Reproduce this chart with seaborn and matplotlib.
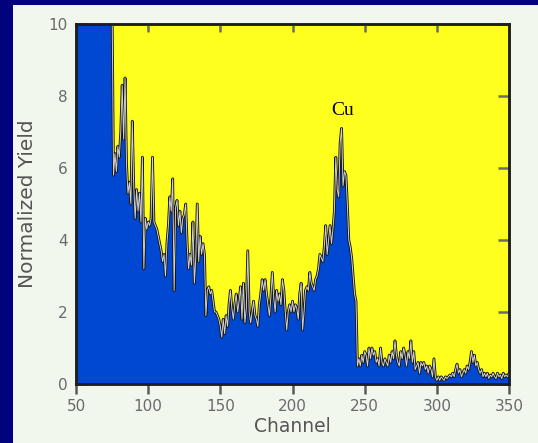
import numpy as np
import pandas as pd
import matplotlib
matplotlib.use("Agg")
import matplotlib.pyplot as plt
import seaborn as sns
from matplotlib.patches import Rectangle

# channel grid 50..350
channels = np.arange(50, 351)

# normalized yield per channel (values > 10 are off scale)
yield_vals = [
    10.5, 10.5, 10.5, 10.5, 10.5, 10.5, 10.5, 10.5, 10.5, 10.5,   # 50
    10.5, 10.5, 10.5, 10.5, 10.5, 10.5, 10.5, 10.5, 10.5, 10.5,   # 60
    10.5, 10.5, 10.5, 10.5, 10.5, 10.5, 5.8, 6.4, 5.9, 6.6,       # 70
    6.3, 7.0, 8.3, 6.8, 8.5, 6.1, 5.3, 5.6, 5.0, 7.3,             # 80
    5.5, 4.6, 5.4, 4.8, 5.3, 4.5, 6.3, 3.2, 4.6, 4.3,             # 90
    4.5, 4.4, 4.6, 6.3, 4.5, 4.4, 4.3, 4.1, 3.9, 3.7,             # 100
    3.4, 3.6, 3.0, 3.9, 4.4, 5.2, 4.8, 5.7, 2.6, 4.9,             # 110
    5.1, 4.4, 4.8, 4.2, 4.6, 4.7, 5.0, 3.9, 3.2, 3.6,             # 120
    3.3, 4.5, 2.8, 3.5, 5.0, 3.4, 4.1, 3.6, 3.9, 3.6,             # 130
    1.9, 2.6, 2.7, 2.5, 2.6, 2.3, 2.0, 2.0, 1.9, 1.8,             # 140
    1.6, 1.3, 1.8, 1.4, 1.9, 1.6, 2.2, 2.6, 2.1, 1.8,             # 150
    2.2, 2.5, 2.0, 2.3, 2.7, 1.8, 2.8, 1.7, 2.1, 3.7,             # 160
    2.0, 1.7, 2.0, 2.3, 1.9, 1.8, 1.6, 2.2, 2.5, 2.9,             # 170
    2.6, 2.9, 2.5, 2.2, 1.9, 2.4, 3.1, 2.4, 2.0, 2.6,             # 180
    2.3, 2.5, 2.2, 2.9, 2.6, 2.0, 1.5, 2.0, 2.2, 2.0,             # 190
    2.3, 2.0, 2.2, 2.1, 1.8, 2.5, 2.8, 1.5, 2.0, 2.6,             # 200
    2.7, 2.6, 3.1, 2.8, 2.7, 2.6, 2.9, 3.0, 3.2, 3.6,             # 210
    3.5, 3.4, 3.8, 4.4, 3.6, 4.0, 4.4, 3.9, 4.3, 4.8,             # 220
    6.3, 5.4, 5.2, 6.7, 7.1, 5.5, 5.9, 5.8, 5.0, 4.0,             # 230
    3.8, 3.5, 3.0, 2.5, 2.3, 0.5, 0.7, 0.5, 0.8, 0.6,             # 240
    0.9, 0.8, 0.5, 1.0, 0.7, 1.0, 0.8, 0.9, 0.6, 0.7,             # 250
    0.5, 1.0, 0.6, 0.5, 0.7, 0.6, 0.5, 0.8, 0.6, 0.9,             # 260
    0.7, 1.2, 0.8, 0.6, 0.5, 0.9, 0.7, 1.0, 0.8, 0.5,             # 270
    0.9, 0.7, 1.2, 0.6, 0.9, 0.4, 0.5, 0.6, 0.3, 0.6,             # 280
    0.5, 0.6, 0.4, 0.5, 0.3, 0.5, 0.4, 0.2, 0.7, 0.2,             # 290
    0.1, 0.2, 0.1, 0.2, 0.15, 0.1, 0.2, 0.15, 0.2, 0.25,          # 300
    0.2, 0.3, 0.2, 0.4, 0.55, 0.3, 0.4, 0.2, 0.3, 0.4,            # 310
    0.3, 0.5, 0.4, 0.6, 0.9, 0.6, 0.8, 0.5, 0.6, 0.4,             # 320
    0.3, 0.4, 0.2, 0.3, 0.2, 0.3, 0.15, 0.25, 0.2, 0.3,           # 330
    0.2, 0.15, 0.3, 0.2, 0.25, 0.15, 0.3, 0.2, 0.25, 0.2,         # 340
    0.3,                                                          # 350
]

x_ticks = [50, 100, 150, 200, 250, 300, 350]
y_ticks = [0, 2, 4, 6, 8, 10]
peak_label = "Cu"
peak_pos = (235, 7.6)

df = pd.DataFrame({"Channel": channels, "Yield": yield_vals})

sns.set_style("ticks")
plt.rcParams["font.family"] = ["DejaVu Sans"]
plt.rcParams.update({
    "xtick.major.size": 7, "xtick.major.width": 1.8, "xtick.color": "#5a5a5a",
    "ytick.major.size": 8, "ytick.major.width": 1.8, "ytick.color": "#6a6a6a",
    "xtick.direction": "out", "ytick.direction": "in",
    "ytick.left": True, "ytick.right": True,
})

fig = plt.figure(figsize=(5.38, 4.43), dpi=100, facecolor="#02027e")
# light panel behind the chart
fig.patches.append(Rectangle((13 / 538, 0), 1, 438 / 443, transform=fig.transFigure,
                             facecolor="#f2f7ee", edgecolor="none", zorder=-10))

ax = fig.add_axes([76 / 538, 59 / 443, 433 / 538, 360 / 443])
ax.set_facecolor("#ffff1e")

ax.fill_between(df["Channel"], 0, df["Yield"], color="#0047d2", linewidth=0, zorder=1)
sns.lineplot(data=df, x="Channel", y="Yield", ax=ax, color="#151515", linewidth=2.0, zorder=2)
sns.lineplot(data=df, x="Channel", y="Yield", ax=ax, color="#d0d0d0", linewidth=0.7, zorder=3)

ax.set_xlim(50, 350)
ax.set_ylim(0, 10)
ax.set_xticks(x_ticks)
ax.set_yticks(y_ticks)

ax.tick_params(axis="x", direction="out", length=7, width=1.8, color="#5a5a5a",
               bottom=True, top=False, labelsize=11, labelcolor="#6a6a6a", pad=4)
ax.tick_params(axis="y", direction="in", length=8, width=1.8, color="#6a6a6a",
               left=True, right=True, labelsize=11, labelcolor="#6a6a6a", pad=6)

# inward ticks along the top edge
top = ax.twiny()
top.set_xlim(50, 350)
top.set_xticks(x_ticks[1:-1])
top.tick_params(axis="x", direction="in", length=6, width=1.8, color="#6a6a6a",
                top=True, bottom=False, labeltop=False, labelbottom=False)
top.grid(False)

for a in (ax, top):
    for s in a.spines.values():
        s.set_color("#1e1e1e")
        s.set_linewidth(1.8)

ax.set_xlabel("Channel", fontsize=13.5, color="#555555", labelpad=2)
ax.set_ylabel("Normalized Yield", fontsize=14.5, color="#555555", labelpad=8)

ax.text(peak_pos[0], peak_pos[1], peak_label, fontsize=14, family="Liberation Serif",
        color="black", ha="center", va="center")

fig.savefig("out.png", dpi=100, facecolor=fig.get_facecolor())
